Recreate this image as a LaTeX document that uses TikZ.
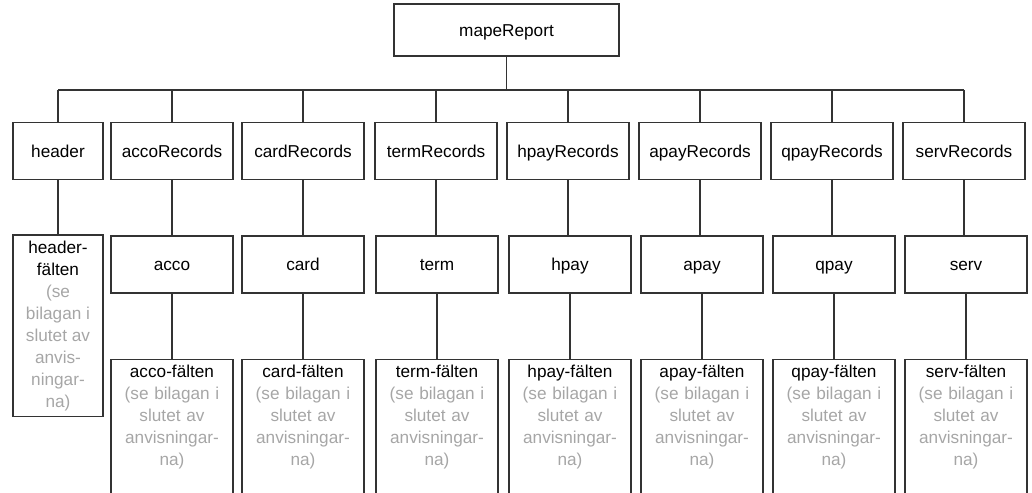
\documentclass[tikz,border=0pt]{standalone}
\usepackage{fontspec}
\setmainfont{Liberation Sans}
\newcommand{\grtxt}[1]{\textcolor{notegray}{#1}}

\begin{document}
\begin{tikzpicture}[x=1pt,y=-1pt,
        caja/.style={draw=black!80, line width=1.1pt, align=center,
            font=\fontsize{17.2}{22}\selectfont,
            minimum width=122pt, minimum height=57pt, inner sep=2pt},
        celda/.style={caja, text height=14.5pt, text depth=1.6pt},
        campos/.style={caja, anchor=north, text width=118pt, text depth=130pt,
            minimum height=0pt, inner ysep=6pt},
        linea/.style={draw=black!80, line width=1.1pt}]
        %colores
        \colorlet{notegray}{black!35}

        %marco
        \useasboundingbox (0,0) rectangle (1032,492);
        \clip (0,0) rectangle (1032,492);

        %raiz
        \node[celda, minimum width=225pt, minimum height=52pt] (mape) at (506.5,30) {mapeReport};
        \coordinate (bus) at (506.5,90);

        %header
        \node[celda, minimum width=90pt] (header-rec) at (58,151) {header};
        \node[caja, minimum width=90pt, minimum height=181.5pt] (header-f) at (58,325.75)
            {header-\\fälten\\\grtxt{(se}\\\grtxt{bilagan i}\\\grtxt{slutet av}\\\grtxt{anvis-}\\\grtxt{ningar-}\\\grtxt{na)}};

        %records, poster y campos
        \foreach \n/\xr/\xm in {acco/172/172, card/303/303, term/436/437, hpay/568/570,
                apay/700/702, qpay/832/834, serv/964/966}
        {
            \node[celda] (\n-rec) at (\xr,151) {\n Records};
            \node[celda] (\n) at (\xm,264.5) {\n};
            \node[campos] (\n-f) at (\xm,358.5)
                {\n-fälten\\\grtxt{(se bilagan i}\\\grtxt{slutet av}\\\grtxt{anvisningar-}\\\grtxt{na)}};
        }

        %lineas
        \draw[linea] (mape.south) -- (bus);
        \draw[linea] (header-rec.north |- bus) -- (serv-rec.north |- bus);
        \draw[linea] (header-rec.north |- bus) -- (header-rec.north);
        \draw[linea] (header-rec.south) -- (header-f.north);
        \foreach \n in {acco, card, term, hpay, apay, qpay, serv}
        {
            \draw[linea] (\n-rec.north |- bus) -- (\n-rec.north);
            \draw[linea] (\n-rec.south) -- (\n-rec.south |- \n.north);
            \draw[linea] (\n.south) -- (\n-f.north);
        }
\end{tikzpicture}
\end{document}
